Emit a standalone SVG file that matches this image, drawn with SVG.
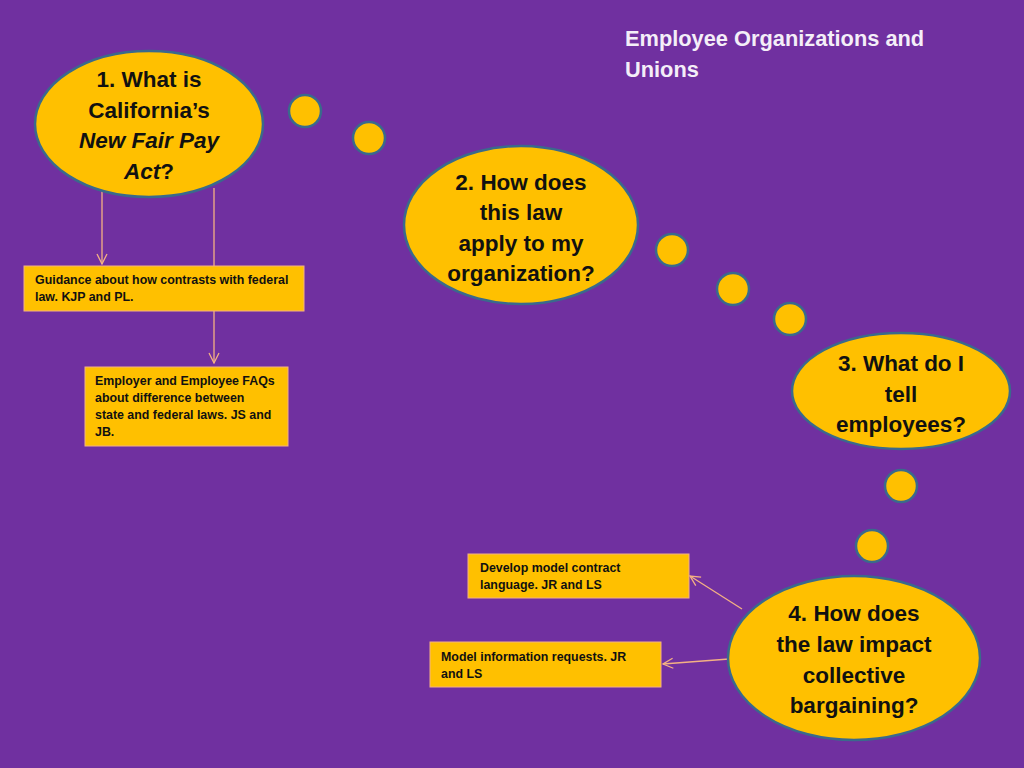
<svg xmlns="http://www.w3.org/2000/svg" width="1024" height="768" viewBox="0 0 1024 768">
<defs>
<style>
.bg{fill:#7030A0}
.ell{fill:#FFC000;stroke:#3A6A8C;stroke-width:2.5}
.box{fill:#FFC000;stroke:#F4B183;stroke-width:1}
.q{font-family:"Liberation Sans",Arial,sans-serif;font-weight:bold;font-size:22.5px;fill:#111;text-anchor:middle}
.t{font-family:"Liberation Sans",Arial,sans-serif;font-weight:bold;font-size:12.4px;fill:#111}
.title{font-family:"Liberation Sans",Arial,sans-serif;font-weight:bold;font-size:21.8px;fill:#F4EEF8}
.con{stroke:#F4B183;stroke-width:1.3;fill:none;marker-end:url(#arr)}
</style>
<marker id="arr" viewBox="0 0 12 12" refX="11" refY="6" markerWidth="12" markerHeight="12" markerUnits="userSpaceOnUse" orient="auto">
<path d="M1,1 L11,6 L1,11" fill="none" stroke="#F4B183" stroke-width="1.3"/>
</marker>
</defs>
<rect class="bg" x="0" y="0" width="1024" height="768"/>
<text class="title" x="625" y="46">Employee Organizations and</text>
<text class="title" x="625" y="77">Unions</text>

<g id="connectors">
<line class="con" x1="102" y1="190" x2="102" y2="264"/>
<line class="con" x1="214" y1="188" x2="214" y2="363"/>
<line class="con" x1="742" y1="609" x2="690" y2="576"/>
<line class="con" x1="729" y1="659" x2="663" y2="664"/>
</g>

<g id="bubbles">
<circle class="ell" cx="305" cy="111" r="16"/>
<circle class="ell" cx="369" cy="138" r="16"/>
<circle class="ell" cx="672" cy="250" r="16"/>
<circle class="ell" cx="733" cy="289" r="16"/>
<circle class="ell" cx="790" cy="319" r="16"/>
<circle class="ell" cx="901" cy="486" r="16"/>
<circle class="ell" cx="872" cy="546" r="16"/>
</g>

<g id="q1">
<ellipse class="ell" cx="149" cy="124" rx="114" ry="73"/>
<text class="q" x="149" y="87">1. What is</text>
<text class="q" x="149" y="118">California’s</text>
<text class="q" x="149" y="148"><tspan font-style="italic">New Fair Pay</tspan></text>
<text class="q" x="149" y="179"><tspan font-style="italic">Act</tspan>?</text>
</g>

<g id="q2">
<ellipse class="ell" cx="521" cy="225" rx="117" ry="79"/>
<text class="q" x="521" y="190">2. How does</text>
<text class="q" x="521" y="220">this law</text>
<text class="q" x="521" y="251">apply to my</text>
<text class="q" x="521" y="281">organization?</text>
</g>

<g id="q3">
<ellipse class="ell" cx="901" cy="391" rx="109" ry="58"/>
<text class="q" x="901" y="371">3. What do I</text>
<text class="q" x="901" y="402">tell</text>
<text class="q" x="901" y="432">employees?</text>
</g>

<g id="q4">
<ellipse class="ell" cx="854" cy="658" rx="126" ry="82"/>
<text class="q" x="854" y="621">4. How does</text>
<text class="q" x="854" y="652">the law impact</text>
<text class="q" x="854" y="683">collective</text>
<text class="q" x="854" y="713">bargaining?</text>
</g>

<g id="boxA">
<rect class="box" x="24" y="266" width="280" height="45"/>
<text class="t" x="35" y="284">Guidance about how contrasts with federal</text>
<text class="t" x="35" y="301">law. KJP and PL.</text>
</g>

<g id="boxB">
<rect class="box" x="85" y="367" width="203" height="79"/>
<text class="t" x="95" y="385">Employer and Employee FAQs</text>
<text class="t" x="95" y="402">about difference between</text>
<text class="t" x="95" y="419">state and federal laws. JS and</text>
<text class="t" x="95" y="436">JB.</text>
</g>

<g id="boxC">
<rect class="box" x="468" y="554" width="221" height="44"/>
<text class="t" x="480" y="572">Develop model contract</text>
<text class="t" x="480" y="589">language. JR and LS</text>
</g>

<g id="boxD">
<rect class="box" x="430" y="642" width="231" height="45"/>
<text class="t" x="441" y="661">Model information requests. JR</text>
<text class="t" x="441" y="678">and LS</text>
</g>
</svg>
